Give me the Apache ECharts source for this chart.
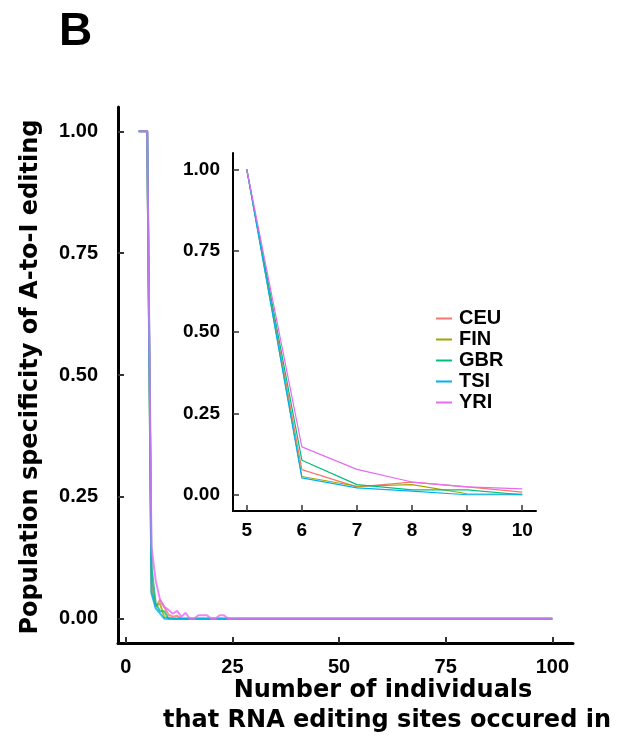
<!DOCTYPE html>
<html>
<head>
<meta charset="utf-8">
<script src="https://cdn.jsdelivr.net/npm/echarts@6/dist/echarts.min.js"></script>
<style>html,body{margin:0;padding:0;background:#fff}#c{width:620px;height:743px}</style>
</head>
<body>
<div id="c"></div>
<script>
// ---- data ----
const populations = ['CEU', 'FIN', 'GBR', 'TSI', 'YRI'];
const popColors = ['#F8766D', '#A3A500', '#00BF7D', '#00B0F6', '#E76BF3'];

// number of individuals, x = 3 .. 100
const xIndividuals = [3,4,5,6,7,8,9,10,11,12,13,14,15,16,17,18,19,20,21,22,23,24,
  25,26,27,28,29,30,31,32,33,34,35,36,37,38,39,40,41,42,43,44,45,46,47,48,49,50,
  51,52,53,54,55,56,57,58,59,60,61,62,63,64,65,66,67,68,69,70,71,72,73,74,75,
  76,77,78,79,80,81,82,83,84,85,86,87,88,89,90,91,92,93,94,95,96,97,98,99,100];

// values for x = 3 .. 24
const ceuHead = [1,1,1,0.077,0.024,0.039,0.024,0.008,0.004,0.006,0,0,0,0,0,0,0,0,0,0,0,0];
const finHead = [1,1,1,0.056,0.026,0.031,0.003,0.002,0,0,0,0,0,0,0,0,0,0,0,0,0,0];
const gbrHead = [1,1,1,0.106,0.031,0.015,0.015,0,0,0,0,0,0,0,0,0,0,0,0,0,0,0];
const tsiHead = [1,1,1,0.052,0.021,0.011,0,0,0,0,0,0,0,0,0,0,0,0,0,0,0,0];
const yriHead = [1,1,1,0.147,0.078,0.039,0.024,0.018,0.010,0.016,0.004,0.012,0,0,0.007,0.007,0.007,0,0,0.007,0.007,0];
// values for x = 25 .. 100 (all populations read as 0)
const tail25to100 = [0,0,0,0,0,0,0,0,0,0, 0,0,0,0,0,0,0,0,0,0, 0,0,0,0,0,0,0,0,0,0,
  0,0,0,0,0,0,0,0,0,0, 0,0,0,0,0,0,0,0,0,0, 0,0,0,0,0,0,0,0,0,0, 0,0,0,0,0,0,0,0,0,0, 0,0,0,0,0,0];

const ceu = ceuHead.concat(tail25to100);
const fin = finHead.concat(tail25to100);
const gbr = gbrHead.concat(tail25to100);
const tsi = tsiHead.concat(tail25to100);
const yri = yriHead.concat(tail25to100);
const seriesValues = [ceu, fin, gbr, tsi, yri];

// inset shows x = 5 .. 10
const insetFrom = 5, insetTo = 10;

const mainXTicks = [0, 25, 50, 75, 100];
const mainYTicks = [0, 0.25, 0.5, 0.75, 1];
const insetXTicks = [5, 6, 7, 8, 9, 10];
const insetYTicks = [0, 0.25, 0.5, 0.75, 1];

const yTitle = 'Population specificity of A-to-I editing';
const xTitle1 = 'Number of individuals';
const xTitle2 = 'that RNA editing sites occured in';
const panelLabel = 'B';

// ---- chart ----
const tickFont = 'Liberation Sans, Arial, sans-serif';
const titleFont = 'DejaVu Sans, sans-serif';

function pairs(vals, lo, hi) {
  const out = [];
  for (let i = 0; i < xIndividuals.length; i++) {
    const x = xIndividuals[i];
    if (x >= lo && x <= hi) out.push([x, vals[i]]);
  }
  return out;
}

const series = [];
populations.forEach((p, k) => {
  series.push({
    name: p, type: 'line', xAxisIndex: 0, yAxisIndex: 0,
    data: pairs(seriesValues[k], -Infinity, Infinity),
    showSymbol: false, symbol: 'none', silent: true, animation: false,
    lineStyle: { color: popColors[k], width: 2, opacity: 0.8 },
    itemStyle: { color: popColors[k] }, z: 2
  });
});
populations.forEach((p, k) => {
  series.push({
    name: p, type: 'line', xAxisIndex: 1, yAxisIndex: 1,
    data: pairs(seriesValues[k], insetFrom, insetTo),
    showSymbol: false, symbol: 'none', silent: true, animation: false,
    lineStyle: { color: popColors[k], width: 1.2 },
    itemStyle: { color: popColors[k] }, z: 5
  });
});

function axisCommon(lineW, tickW, fontSize, margin, ticks, fmt) {
  return {
    type: 'value',
    axisLine: { show: true, onZero: false, lineStyle: { color: '#000', width: lineW } },
    axisTick: { show: true, inside: true, length: 6, customValues: ticks, lineStyle: { color: '#333', width: tickW } },
    axisLabel: { show: true, customValues: ticks, margin: margin, formatter: fmt,
      fontFamily: tickFont, fontWeight: 'bold', fontSize: fontSize, color: '#000' },
    splitLine: { show: false }
  };
}

const chart = echarts.init(document.getElementById('c'), null, { renderer: 'canvas' });
chart.setOption({
  backgroundColor: '#fff',
  animation: false,
  grid: [
    { left: 118, top: 107, width: 455, height: 536, containLabel: false },
    { left: 233, top: 153, width: 303, height: 358, containLabel: false, z: 4 }
  ],
  xAxis: [
    Object.assign(axisCommon(3, 2, 20, 14, mainXTicks, v => String(v)), { gridIndex: 0, min: -1.85, max: 104.85 }),
    Object.assign(axisCommon(2, 1.5, 19, 10, insetXTicks, v => String(v)), { gridIndex: 1, min: 4.75, max: 10.25 })
  ],
  yAxis: [
    Object.assign(axisCommon(3, 2, 20, 20, mainYTicks, v => v.toFixed(2)), { gridIndex: 0, min: -0.05, max: 1.05 }),
    Object.assign(axisCommon(2, 1.5, 19, 13, insetYTicks, v => v.toFixed(2)), { gridIndex: 1, min: -0.05, max: 1.05 })
  ],
  legend: {
    data: populations, orient: 'vertical', left: 431, top: 303,
    itemWidth: 16, itemHeight: 14, itemGap: 0, selectedMode: false,
    icon: 'path://M0,0 L16,0 L16,2 L0,2 Z',
    textStyle: { fontFamily: tickFont, fontWeight: 'bold', fontSize: 20, color: '#000', lineHeight: 21, padding: [0, 0, 0, 2] }
  },
  graphic: [
    { type: 'text', x: 59, y: 32, style: { text: panelLabel, font: 'bold 46px ' + tickFont, fill: '#000', textAlign: 'left', textVerticalAlign: 'middle' } },
    { type: 'text', x: 31, y: 377, rotation: Math.PI / 2, style: { text: yTitle, font: 'bold 24px ' + titleFont, fill: '#000', textAlign: 'center', textVerticalAlign: 'middle' } },
    { type: 'text', x: 383, y: 691, style: { text: xTitle1, font: 'bold 24px ' + titleFont, fill: '#000', textAlign: 'center', textVerticalAlign: 'middle' } },
    { type: 'text', x: 387, y: 721, style: { text: xTitle2, font: 'bold 24px ' + titleFont, fill: '#000', textAlign: 'center', textVerticalAlign: 'middle' } }
  ],
  series: series
});
</script>
</body>
</html>
